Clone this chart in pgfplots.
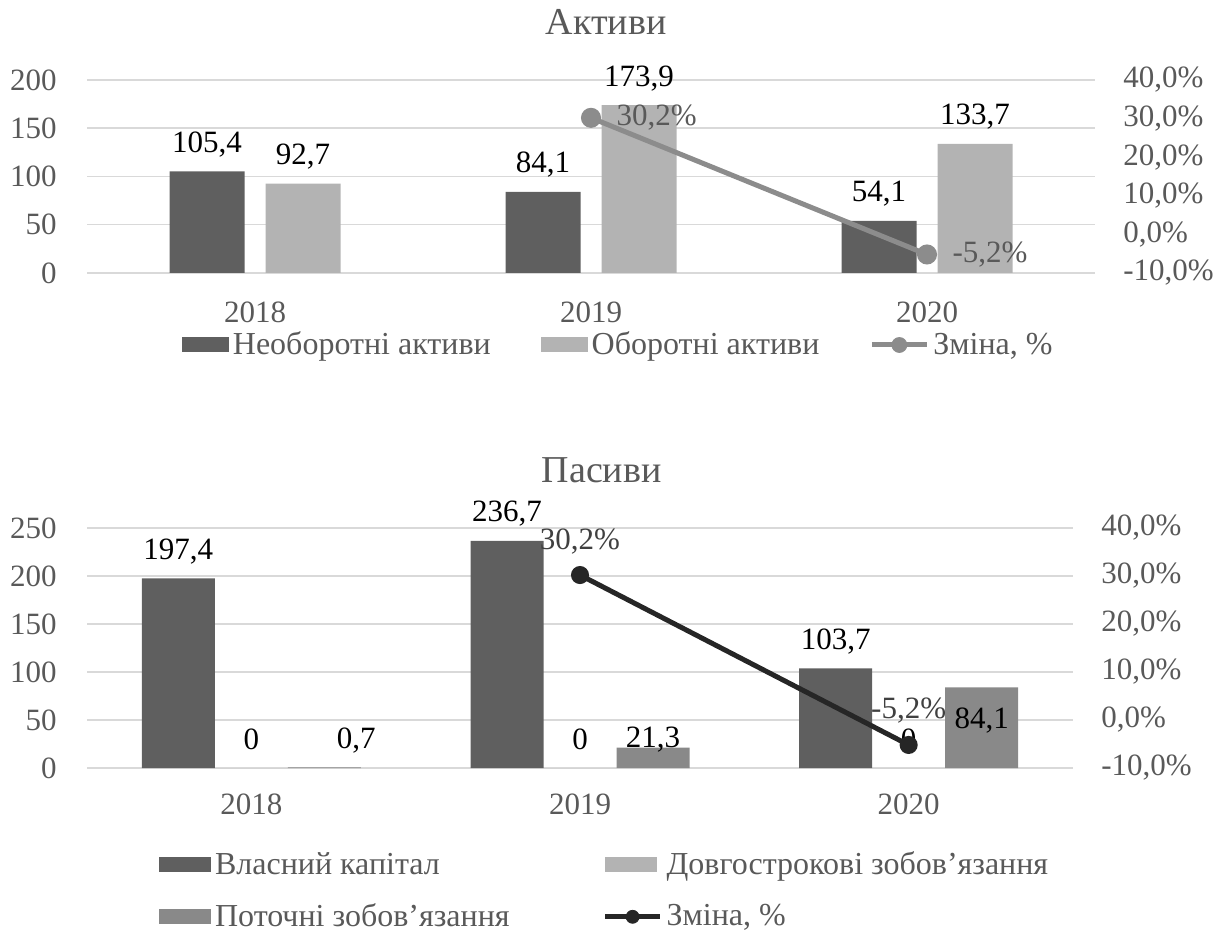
\documentclass[border=0pt]{standalone}
\usepackage{fontspec}
\setmainfont{Liberation Serif}
\usepackage{pgfplots}
\usepackage{pgfplotstable}
\pgfplotsset{compat=1.18}

\definecolor{darkbar}{HTML}{5F5F5F}
\definecolor{lightbar}{HTML}{B3B3B3}
\definecolor{midbar}{HTML}{898989}
\definecolor{line1}{HTML}{8C8C8C}
\definecolor{line2}{HTML}{262626}
\definecolor{txt}{HTML}{595959}
\definecolor{gridc}{HTML}{D9D9D9}

\newcommand\lbl{\fontsize{15.5bp}{18bp}\selectfont}
\newcommand\leg{\fontsize{16bp}{19bp}\selectfont}
\newcommand\ttl{\fontsize{19bp}{22bp}\selectfont}

% Активи
\pgfplotstableread{
x   neob  ob
0.5 105.4 92.7
1.5 84.1  173.9
2.5 54.1  133.7
}\aktyvy

% Пасиви (dx, dy -- extra shift of the label, bp)
\pgfplotstableread{
x   vk    dz  pz   dx  dy
0.5 197.4 0   0.7  16  0
1.5 236.7 0   21.3 0   -9.5
2.5 103.7 0   84.1 0   -30
}\pasyvy

\pgfplotsset{
  /pgf/number format/assume math mode=true,
  base/.style={
    scale only axis, anchor=south west, clip=false,
    xmin=0, xmax=3,
    axis line style={draw=none},
    major tick length=0pt,
    tick label style={font=\lbl, text=txt},
  },
  leftax/.style={
    base,
    ymajorgrids, grid style={gridc, line width=0.75bp},
    xtick={0.5,1.5,2.5}, xticklabels={2018,2019,2020},
    yticklabel style={inner sep=0pt, xshift=-15bp},
    xticklabel style={inner sep=0pt, yshift=-14bp},
    every axis title shift=0pt,
    title style={font=\ttl, text=txt, anchor=base, yshift=22.75bp},
    legend cell align=left,
  },
  rightax/.style={
    base, axis y line*=right, xtick=\empty,
    ymin=-10, ymax=40, ytick={-10,0,...,40},
    yticklabel={\pgfmathprintnumber[fixed,fixed zerofill,precision=1,use comma]{\tick}\%},
    yticklabel style={inner sep=0pt, xshift=14bp},
  },
  barlab/.style={
    nodes near coords={\pgfmathprintnumber[fixed,precision=1,use comma]{\pgfplotspointmeta}},
    every node near coord/.append style={font=\lbl, text=black, anchor=base, inner sep=0pt, yshift=9.5bp, xshift=#1},
  },
  pctlab/.style={
    nodes near coords={\pgfmathprintnumber[fixed,precision=1,use comma]{\pgfplotspointmeta}\%},
  },
}

\begin{document}
\begin{tikzpicture}
\useasboundingbox (0,0) rectangle (612.5bp,465.5bp);

% ---------- Активи ----------
\begin{axis}[leftax, at={(43.5bp,329bp)}, width=504bp, height=96.5bp,
  ymin=0, ymax=200, ytick={0,50,...,200},
  title={Активи}, title style={at={(0.515,1)}},
  legend columns=3,
  legend style={at={(0.528,-0.373)}, anchor=center, draw=none, fill=none,
    font=\leg, text=txt, inner sep=0pt,
    /tikz/every even column/.append style={column sep=23bp}},
]
\addplot[ybar, bar width=37.5bp, bar shift=-24bp, fill=darkbar, draw=none, barlab=-24bp,
  legend image code/.code={\fill[darkbar] (0bp,-3.75bp) rectangle (23.5bp,3.75bp);}]
  table[x=x, y=neob] {\aktyvy};
\addlegendentry{Необоротні активи}
\addplot[ybar, bar width=37.5bp, bar shift=24bp, fill=lightbar, draw=none, barlab=24bp,
  legend image code/.code={\fill[lightbar] (0bp,-3.75bp) rectangle (23.5bp,3.75bp);}]
  table[x=x, y=ob] {\aktyvy};
\addlegendentry{Оборотні активи}
\addlegendimage{legend image code/.code={\draw[line1, line width=2.5bp] (0bp,0bp) -- (27.5bp,0bp); \fill[line1] (13.75bp,0bp) circle (3.75bp);}}
\addlegendentry{Зміна, \%}
\end{axis}

\begin{axis}[rightax, at={(43.5bp,329bp)}, width=504bp, height=96.5bp]
\addplot[line1, line width=2.5bp, mark=*, mark size=3.75bp,
  mark options={fill=line1, draw=none}, pctlab,
  every node near coord/.append style={font=\lbl, text=txt, anchor=west, inner sep=0pt, xshift=11.5bp}]
  coordinates {(1.5,30.2) (2.5,-5.2)};
\end{axis}

% ---------- Пасиви ----------
\begin{axis}[leftax, at={(43.5bp,81.5bp)}, width=493bp, height=120bp,
  ymin=0, ymax=250, ytick={0,50,...,250},
  xticklabel style={yshift=1.5bp},
  title={Пасиви}, title style={at={(0.522,1)}},
  legend columns=2,
  legend style={at={(0.526,-0.512)}, anchor=center, draw=none, fill=none,
    font=\leg, text=txt, inner sep=0pt, row sep=9bp,
    /tikz/every even column/.append style={column sep=44.5bp}},
]
\addplot[ybar, bar width=36.5bp, bar shift=-36.5bp, fill=darkbar, draw=none, barlab=-36.5bp,
  legend image code/.code={\fill[darkbar] (0bp,-3.75bp) rectangle (26bp,3.75bp);}]
  table[x=x, y=vk] {\pasyvy};
\addlegendentry{Власний капітал}
\addplot[ybar, bar width=36.5bp, bar shift=0bp, fill=lightbar, draw=none, barlab=0bp,
  legend image code/.code={\fill[lightbar] (0bp,-3.75bp) rectangle (26bp,3.75bp);}]
  table[x=x, y=dz] {\pasyvy};
\addlegendentry{Довгострокові зобов’язання}
\addplot[ybar, bar width=36.5bp, bar shift=36.5bp, fill=midbar, draw=none, barlab=36.5bp,
  visualization depends on={\thisrow{dx}\as\dx},
  visualization depends on={\thisrow{dy}\as\dy},
  every node near coord/.append style={xshift=\dx bp, yshift=\dy bp},
  legend image code/.code={\fill[midbar] (0bp,-3.75bp) rectangle (26bp,3.75bp);}]
  table[x=x, y=pz] {\pasyvy};
\addlegendentry{Поточні зобов’язання}
\addlegendimage{legend image code/.code={\draw[line2, line width=2.5bp] (0bp,0bp) -- (27.5bp,0bp); \fill[line2] (13.75bp,0bp) circle (3.25bp);}}
\addlegendentry{Зміна, \%}
\end{axis}

\begin{axis}[rightax, at={(43.5bp,81.5bp)}, width=493bp, height=120bp]
\addplot[line2, line width=2.5bp, mark=*, mark size=3.25bp,
  mark options={fill=line2, draw=none}, pctlab,
  every node near coord/.append style={font=\lbl, text=darkgray, anchor=base, inner sep=0pt, yshift=13bp}]
  coordinates {(1.5,30.2) (2.5,-5.2)};
\end{axis}
\end{tikzpicture}
\end{document}
